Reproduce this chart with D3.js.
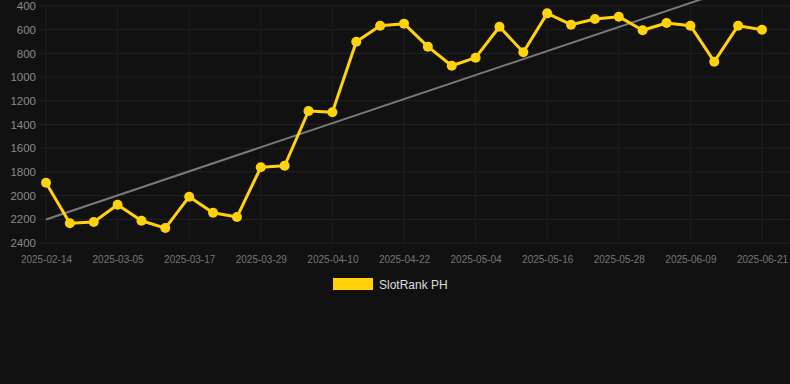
<!DOCTYPE html>
<html>
<head>
<meta charset="utf-8">
<script src="https://cdn.jsdelivr.net/npm/d3@7"></script>
<style>
  html, body { margin: 0; padding: 0; background: #111111; }
  svg { display: block; font-family: "Liberation Sans", Arial, sans-serif; }
</style>
</head>
<body>
<svg id="chart" width="790" height="384"></svg>
<script>
'use strict';

// Dates on the category axis (every third one is labelled)
const dates = [
    '2025-02-14', '2025-02-20', '2025-02-27', '2025-03-05', '2025-03-09', '2025-03-13',
    '2025-03-17', '2025-03-21', '2025-03-25', '2025-03-29', '2025-04-02', '2025-04-06',
    '2025-04-10', '2025-04-14', '2025-04-18', '2025-04-22', '2025-04-26', '2025-04-30',
    '2025-05-04', '2025-05-08', '2025-05-12', '2025-05-16', '2025-05-20', '2025-05-24',
    '2025-05-28', '2025-06-01', '2025-06-05', '2025-06-09', '2025-06-13', '2025-06-17',
    '2025-06-21',
];

// SlotRank PH rank per date (lower is better, axis is inverted)
const ranks = [
    1891, 2234, 2223, 2077, 2212, 2274, 2009, 2144, 2181, 1761, 1748, 1286,
    1297, 701, 566, 549, 743, 904, 836, 575, 791, 462, 558, 510,
    490, 605, 543, 566, 870, 566, 600,
];

const yTicks = [400, 600, 800, 1000, 1200, 1400, 1600, 1800, 2000, 2200, 2400];
const seriesName = 'SlotRank PH';

const plot = { left: 46, right: 762, top: 6, bottom: 243, gridLeft: 40, gridRight: 790 };

const svg = d3.select('#chart');

const x = d3.scalePoint().domain(dates).range([plot.left, plot.right]);
const y = d3.scaleLinear().domain([400, 2400]).range([plot.top, plot.bottom]);

// Grid: horizontal at y ticks, vertical at labelled dates
const labelled = dates.filter((d, i) => i % 3 === 0);

svg.append('g')
    .selectAll('line')
    .data(yTicks)
    .join('line')
    .attr('x1', plot.gridLeft).attr('x2', plot.gridRight)
    .attr('y1', d => y(d)).attr('y2', d => y(d))
    .attr('stroke', '#222222').attr('stroke-width', 1);

svg.append('g')
    .selectAll('line')
    .data(labelled)
    .join('line')
    .attr('x1', d => x(d)).attr('x2', d => x(d))
    .attr('y1', plot.top).attr('y2', plot.bottom)
    .attr('stroke', '#1e1e1e').attr('stroke-width', 1);

// Y axis labels
const yAxis = svg.append('g')
    .attr('transform', `translate(${plot.left - 10},0)`)
    .call(d3.axisLeft(y).tickValues(yTicks).tickSize(0).tickPadding(0).tickFormat(d3.format('d')));
yAxis.select('.domain').remove();
yAxis.selectAll('text').attr('fill', '#8a8a8a').attr('font-size', 11.5)
    .attr('font-family', '"Liberation Sans", Arial, sans-serif');

// X axis labels
const xAxis = svg.append('g')
    .attr('transform', `translate(0,${plot.bottom + 13})`)
    .call(d3.axisBottom(x).tickValues(labelled).tickSize(0).tickPadding(0));
xAxis.select('.domain').remove();
xAxis.selectAll('text').attr('fill', '#767676').attr('font-size', 10)
    .attr('font-family', '"Liberation Sans", Arial, sans-serif');

// Linear trend (least squares over the series)
const n = ranks.length;
const meanI = d3.mean(ranks, (d, i) => i);
const meanV = d3.mean(ranks);
const slope = d3.sum(ranks, (d, i) => (i - meanI) * (d - meanV)) / d3.sum(ranks, (d, i) => (i - meanI) ** 2);
const trend = [0, n - 1].map(i => ({ date: dates[i], v: meanV + slope * (i - meanI) }));

svg.append('line')
    .attr('x1', x(trend[0].date)).attr('y1', y(trend[0].v))
    .attr('x2', x(trend[1].date)).attr('y2', y(trend[1].v))
    .attr('stroke', '#7a7a7a').attr('stroke-width', 2);

// Series line + points
const line = d3.line().x((d, i) => x(dates[i])).y(d => y(d));

svg.append('path')
    .datum(ranks)
    .attr('d', line)
    .attr('fill', 'none')
    .attr('stroke', '#FFD20A').attr('stroke-width', 3)
    .attr('stroke-linejoin', 'round');

svg.append('g')
    .selectAll('circle')
    .data(ranks)
    .join('circle')
    .attr('cx', (d, i) => x(dates[i]))
    .attr('cy', d => y(d))
    .attr('r', 5)
    .attr('fill', '#FFD20A');

// Legend
const lg = svg.append('g').attr('transform', 'translate(333,278)');
lg.append('rect').attr('width', 40).attr('height', 12).attr('fill', '#FFD20A');
lg.append('text').attr('x', 46).attr('y', 11).attr('font-size', 12).attr('fill', '#dddddd').text(seriesName);
</script>
</body>
</html>
